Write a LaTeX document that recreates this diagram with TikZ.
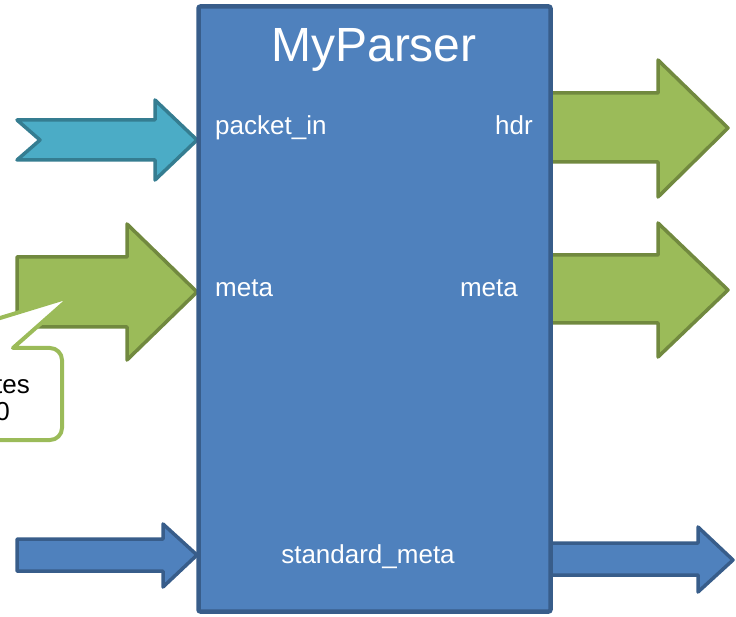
\documentclass[tikz,border=0pt]{standalone}
\usepackage{fontspec}
\setmainfont{Liberation Sans}
\definecolor{boxfill}{HTML}{4F81BD}
\definecolor{boxline}{HTML}{385D8A}
\definecolor{cyanfill}{HTML}{4BACC6}
\definecolor{cyanline}{HTML}{357D91}
\definecolor{greenfill}{HTML}{9BBB59}
\definecolor{greenline}{HTML}{71893F}
\tikzset{
  arrowcyan/.style={fill=cyanfill, draw=cyanline, line width=3.5pt, line join=round},
  arrowgreen/.style={fill=greenfill, draw=greenline, line width=3.5pt, line join=round},
  arrowblue/.style={fill=boxfill, draw=boxline, line width=3.5pt, line join=round},
  portlabel/.style={text=white, inner sep=0pt, font=\fontsize{26}{31}\selectfont},
  calloutbox/.style={fill=white, draw=greenfill, line width=4pt, line join=round},
  callouttext/.style={text=black, inner sep=0pt, font=\fontsize{26}{31}\selectfont},
}
\begin{document}
\begin{tikzpicture}[x=1pt,y=-1pt]
\useasboundingbox (0,0) rectangle (736,617);
\clip (0,0) rectangle (736,617);

% input arrows
\draw[arrowcyan] (17,120) -- (155,120) -- (155,100) -- (197,140) -- (155,180) -- (155,160) -- (17,160) -- (40,140) -- cycle;
\draw[arrowgreen] (17,257) -- (127,257) -- (127,224) -- (197,292) -- (127,360) -- (127,327) -- (17,327) -- cycle;
\draw[arrowblue] (17,539) -- (163,539) -- (163,524) -- (197,555) -- (163,587) -- (163,571) -- (17,571) -- cycle;

% output arrows
\draw[arrowgreen] (545,93) -- (658,93) -- (658,60) -- (728,128) -- (658,197) -- (658,162) -- (545,162) -- cycle;
\draw[arrowgreen] (545,255) -- (658,255) -- (658,223) -- (728,290) -- (658,357) -- (658,323) -- (545,323) -- cycle;
\draw[arrowblue] (545,543) -- (698,543) -- (698,527) -- (733,560) -- (698,592) -- (698,575) -- (545,575) -- cycle;

% callout
\draw[calloutbox] (-140,440) -- (-140,348) -- (-98,348) -- (72,296) -- (13,348)
  [rounded corners=12pt] -- (62,348) -- (62,440) [sharp corners] -- cycle;
\node[callouttext, anchor=base east] (note1) at (30,393) {bytes};
\node[callouttext, anchor=base east] (note2) at (10,420) {0};

% main block
\node[draw=boxline, fill=boxfill, line width=4.5pt, rounded corners=2pt,
      minimum width=352pt, minimum height=605pt, inner sep=0pt] (parser) at (374.5,309) {};
\node[text=white, inner sep=0pt, font=\fontsize{48}{56}\selectfont, anchor=base] (title) at (374,62) {MyParser};

\node[portlabel, anchor=base west] (pin) at (215,135) {packet\_in};
\node[portlabel, anchor=base east] (phdr) at (533,135) {hdr};
\node[portlabel, anchor=base west] (pmetain) at (215,297) {meta};
\node[portlabel, anchor=base east] (pmetaout) at (518,297) {meta};
\node[portlabel, anchor=base] (pstd) at (368,563) {standard\_meta};
\end{tikzpicture}
\end{document}
